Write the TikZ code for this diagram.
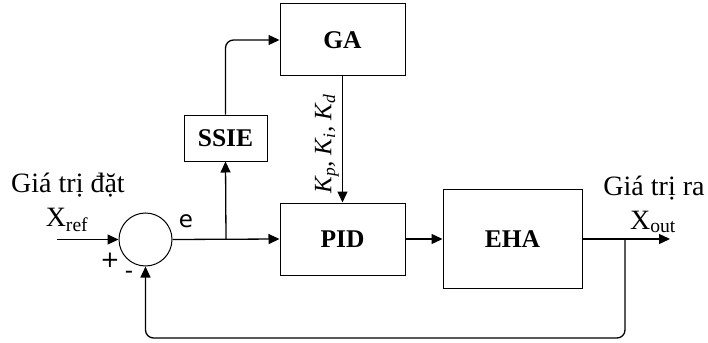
\documentclass[tikz,border=0pt]{standalone}
\usepackage{fontspec}
\setmainfont{Liberation Serif}
\newfontfamily\dejavu{DejaVu Sans}
\usetikzlibrary{arrows.meta}
\begin{document}
\begin{tikzpicture}[x=1pt,y=-1pt,
  blk/.style={draw, line width=1pt, inner sep=0pt, font=\fontsize{25.5}{30}\selectfont\bfseries},
  arr/.style={line width=1.3pt, -{Triangle[length=11pt,width=10pt]}},
  ln/.style={line width=1.3pt},
  lbl/.style={inner sep=0pt, font=\fontsize{28}{32}\selectfont},
  sgn/.style={inner sep=0pt, font=\dejavu\fontsize{23}{26}\selectfont}]
\useasboundingbox (0,0) rectangle (708,342);
\node[blk, minimum width=125pt, minimum height=72pt] (ga) at (342.5,40) {GA};
\node[blk, minimum width=83pt, minimum height=46pt] (ssie) at (225.5,138) {SSIE};
\node[blk, minimum width=125pt, minimum height=72pt] (pid) at (342.5,239) {PID};
\node[blk, minimum width=139pt, minimum height=99pt] (eha) at (512.5,239) {EHA};
\node[draw, circle, line width=1pt, minimum size=53pt, inner sep=0pt] (sum) at (145.5,239.5) {};
\coordinate (in) at (57,239.5);
\coordinate (br) at (226,239.5);
\coordinate (fb) at (625,239);
\coordinate (out) at (670,239);
\coordinate (bot) at (625,338);
\draw[arr] (in) -- (sum.west);
\draw[arr] (sum.east) -- (pid.west);
\draw[arr] (br) -- (ssie.south);
\draw[arr, rounded corners=8pt] (ssie.north) |- (ga.west);
\draw[arr] (ga.south) -- (pid.north);
\draw[arr] (pid.east) -- (eha.west);
\draw[arr] (eha.east) -- (out);
\draw[arr, rounded corners=8pt] (fb) -- (bot) -| (sum.south);
\node[inner sep=0pt, rotate=90, font=\fontsize{25}{28}\selectfont\itshape] (k) at (327,144) {K\textsubscript{p}, K\textsubscript{i}, K\textsubscript{d}};
\node[lbl] (t1) at (68,185) {Giá trị đặt};
\node[lbl] (x1) at (67,220) {X\textsubscript{ref}};
\node[sgn] (e) at (186,221) {e};
\node[sgn] (plus) at (110,260) {+};
\node[sgn] (minus) at (129,275) {-};
\node[lbl] (t2) at (654,188) {Giá trị ra};
\node[lbl] (x2) at (653,222) {X\textsubscript{out}};
\end{tikzpicture}
\end{document}
